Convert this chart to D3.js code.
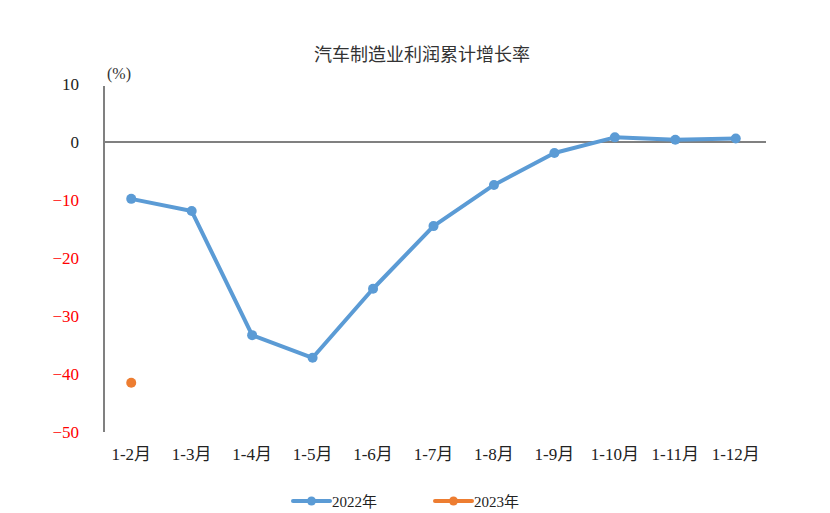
<!DOCTYPE html>
<html><head><meta charset="utf-8">
<script src="https://cdn.jsdelivr.net/npm/d3@7"></script>
<style>body{margin:0;background:#fff}svg{display:block}text{font-family:"Liberation Serif","Noto Sans CJK SC",serif}</style>
</head><body>
<svg id="c" width="830" height="513"></svg>
<script>
const categories = ["1-2月","1-3月","1-4月","1-5月","1-6月","1-7月","1-8月","1-9月","1-10月","1-11月","1-12月"];
const values2022 = [-9.8,-11.9,-33.3,-37.2,-25.3,-14.5,-7.4,-1.9,0.8,0.4,0.6];
const values2023 = [-41.5];
const yTicks = [10,0,-10,-20,-30,-40,-50];
const seriesNames = ["2022年","2023年"];
const title = "汽车制造业利润累计增长率";

const svg = d3.select("#c");
const x = d3.scaleBand().domain(categories).range([101,766]);
const y = d3.scaleLinear().domain([-50,10]).range([432,84]);
const cx = d => x(d) + x.bandwidth()/2;
const blue = "#5B9BD5", orange = "#ED7D31";

svg.append("text").attr("x",422).attr("y",61).attr("text-anchor","middle")
  .attr("font-size",18).attr("fill","#333").text(title);
svg.append("text").attr("x",107).attr("y",79).attr("font-size",16).attr("fill","#333").text("(%)");

// y axis line
svg.append("line").attr("x1",104).attr("x2",104).attr("y1",y(10)+2).attr("y2",y(-50))
  .attr("stroke","#808080").attr("stroke-width",2);
// zero line
svg.append("line").attr("x1",104).attr("x2",766).attr("y1",y(0)).attr("y2",y(0))
  .attr("stroke","#808080").attr("stroke-width",2);

svg.selectAll(".yt").data(yTicks).enter().append("text")
  .attr("x",79).attr("y",d=>y(d)+6).attr("text-anchor","end").attr("font-size",17)
  .attr("fill",d=>d<0?"#FF0000":"#222").text(d=>d<0?"−"+Math.abs(d):d);

svg.selectAll(".xt").data(categories).enter().append("text")
  .attr("x",d=>cx(d)).attr("y",460).attr("text-anchor","middle").attr("font-size",17)
  .attr("fill","#222").text(d=>d);

const line = d3.line().x((d,i)=>cx(categories[i])).y(d=>y(d));
svg.append("path").datum(values2022).attr("d",line).attr("fill","none")
  .attr("stroke",blue).attr("stroke-width",4).attr("stroke-linejoin","round");
svg.selectAll(".p22").data(values2022).enter().append("circle")
  .attr("cx",(d,i)=>cx(categories[i])).attr("cy",d=>y(d)).attr("r",5).attr("fill",blue);
svg.selectAll(".p23").data(values2023).enter().append("circle")
  .attr("cx",(d,i)=>cx(categories[i])).attr("cy",d=>y(d)).attr("r",5).attr("fill",orange);

// legend
const leg = [{name:seriesNames[0],c:blue,x:293},{name:seriesNames[1],c:orange,x:435}];
leg.forEach(l=>{
  svg.append("line").attr("x1",l.x).attr("x2",l.x+37).attr("y1",501).attr("y2",501)
    .attr("stroke",l.c).attr("stroke-width",4).attr("stroke-linecap","round");
  svg.append("circle").attr("cx",l.x+18.5).attr("cy",501).attr("r",4.5).attr("fill",l.c);
  svg.append("text").attr("x",l.x+39).attr("y",507).attr("font-size",15).attr("fill","#222").text(l.name);
});
</script>
</body></html>
